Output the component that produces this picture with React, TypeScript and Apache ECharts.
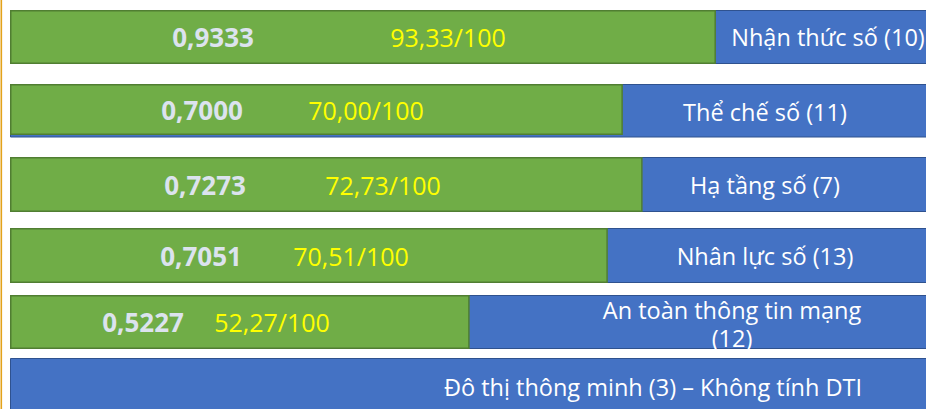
import React, { useEffect, useRef } from "react";
import * as echarts from "echarts";

// ---- data ----
const categories = [
  "Nhận thức số (10)",
  "Thể chế số (11)",
  "Hạ tầng số (7)",
  "Nhân lực số (13)",
  "An toàn thông tin mạng\n(12)",
  "Đô thị thông minh (3) – Không tính DTI",
];
const indexValues: (number | null)[] = [0.9333, 0.7, 0.7273, 0.7051, 0.5227, null];
const scores: (number | null)[] = [93.33, 70.0, 72.73, 70.51, 52.27, null];
// length of the green bar, as a share (%) of the row track
const barShare: number[] = [75.1, 65.2, 67.3, 63.6, 48.9, 0];

// ---- layout (not data) ----
const rowTop = [10, 82, 157, 228, 295, 358];
const rowHeight = [54, 55, 55, 55, 54, 54];
const greenHeight = [54, 51, 55, 55, 54, 54];
const valueLabelX = [213, 202, 205, 201, 143, 0];
const scoreLabelX = [448, 366, 383, 351, 272, 0];
const catLabelX = [828, 765, 765, 765, 732, 653];
const catLabelDY = [0, 0, 0, 0, 2, 2];
const GRID_LEFT = 10;
const GRID_WIDTH = 940;

const FONT = "'Open Sans', 'Noto Sans', sans-serif";
const fmt = (v: number, d: number) => v.toFixed(d).replace(".", ",");

export default function App() {
  const ref = useRef<HTMLDivElement>(null);

  useEffect(() => {
    if (!ref.current) return;
    const chart = echarts.init(ref.current, null, { renderer: "svg" });

    const grids: any[] = [];
    const xAxes: any[] = [];
    const yAxes: any[] = [];
    const series: any[] = [];

    categories.forEach((cat, i) => {
      grids.push({
        left: GRID_LEFT,
        width: GRID_WIDTH,
        top: rowTop[i],
        height: rowHeight[i],
        containLabel: false,
        outerBoundsMode: "none",
      });
      xAxes.push({ type: "value", gridIndex: i, min: 0, max: 100, show: false });
      yAxes.push({ type: "category", gridIndex: i, data: [cat], show: false });

      // blue track with category label
      series.push({
        type: "bar",
        xAxisIndex: i,
        yAxisIndex: i,
        data: [100],
        barWidth: "100%",
        barGap: "-100%",
        itemStyle: { color: "#4472C4", borderColor: "#2F528F", borderWidth: 1 },
        label: {
          show: true,
          formatter: cat,
          position: [catLabelX[i] - GRID_LEFT, rowHeight[i] / 2 + catLabelDY[i]],
          align: "center",
          verticalAlign: "middle",
          color: "#FFFFFF",
          fontFamily: FONT,
          fontSize: 23.5,
          lineHeight: 28,
        },
        silent: true,
      });

      const iv = indexValues[i];
      const sc = scores[i];
      if (iv !== null && sc !== null) {
        series.push({
          type: "bar",
          xAxisIndex: i,
          yAxisIndex: i,
          data: [barShare[i]],
          barWidth: greenHeight[i],
          barGap: "-100%",
          itemStyle: { color: "#70AD47", borderColor: "#507E32", borderWidth: 1.5 },
          label: {
            show: true,
            formatter: fmt(iv, 4),
            position: [valueLabelX[i] - GRID_LEFT, "50%"],
            align: "center",
            verticalAlign: "middle",
            color: "#DCE3EE",
            fontFamily: FONT,
            fontWeight: "bold",
            fontSize: 26,
          },
          silent: true,
        });
        series.push({
          type: "bar",
          xAxisIndex: i,
          yAxisIndex: i,
          data: [barShare[i]],
          barWidth: greenHeight[i],
          barGap: "-100%",
          itemStyle: { color: "rgba(0,0,0,0)" },
          label: {
            show: true,
            formatter: fmt(sc, 2) + "/100",
            position: [scoreLabelX[i] - GRID_LEFT, "50%"],
            align: "center",
            verticalAlign: "middle",
            color: "#FFFF00",
            fontFamily: FONT,
            fontSize: 25,
          },
          silent: true,
        });
      }
    });

    chart.setOption({
      animation: false,
      backgroundColor: "#FFFFFF",
      grid: grids,
      xAxis: xAxes,
      yAxis: yAxes,
      series,
      graphic: [
        {
          type: "rect",
          shape: { x: 0.5, y: 0, width: 1.6, height: 409 },
          style: { fill: "#E3A21A" },
          z: 100,
        },
      ],
    });

    return () => chart.dispose();
  }, []);

  return (
    <div
      ref={ref}
      style={{ position: "absolute", left: 0, top: 0, width: 926, height: 409 }}
    />
  );
}
